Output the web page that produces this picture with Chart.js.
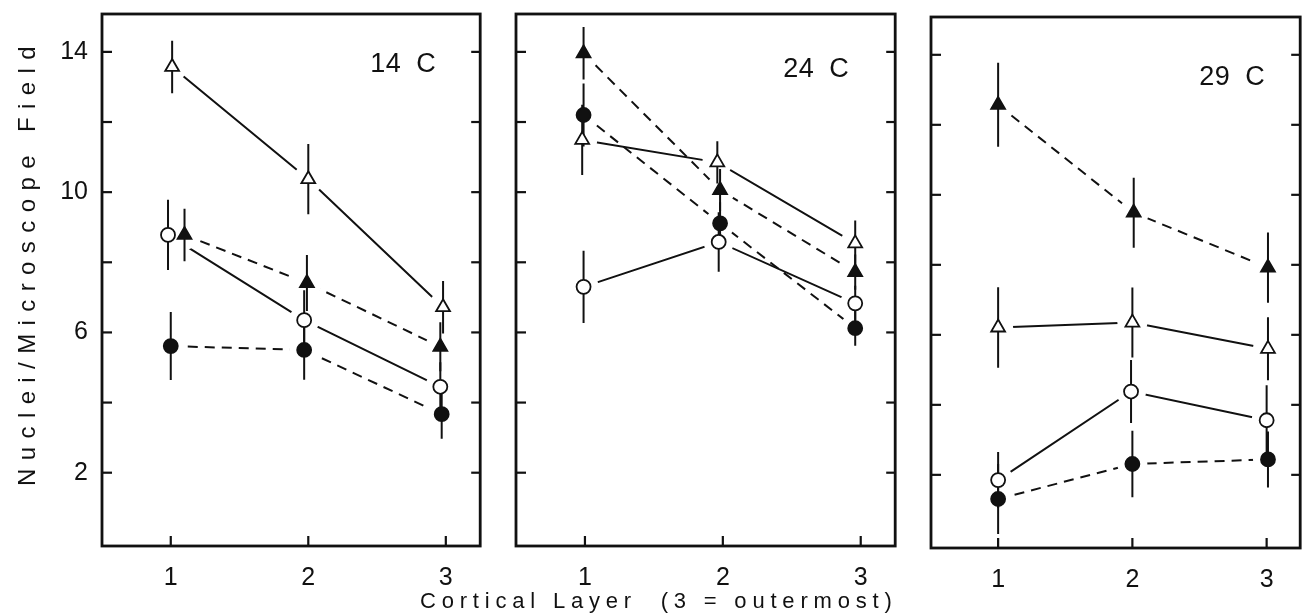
<!DOCTYPE html>
<html><head><meta charset="utf-8">
<script src="https://cdn.jsdelivr.net/npm/chart.js@4.4.1/dist/chart.umd.min.js"></script>
<style>
html,body{margin:0;padding:0;background:#fff;width:1310px;height:615px;overflow:hidden;position:relative;}
canvas{position:absolute;top:0;}
.title{position:absolute;font-family:"Liberation Sans",Arial,sans-serif;color:#111;white-space:pre;}
#ytitle{left:-203px;top:248px;width:460px;text-align:center;font-size:24px;line-height:28px;letter-spacing:8.4px;transform:rotate(-90deg);transform-origin:230px 14px;}
#xtitle{left:420px;top:588px;font-size:22px;line-height:26px;letter-spacing:5.8px;}
</style></head><body>
<canvas id="c1" width="490" height="615" style="left:0px"></canvas>
<canvas id="c2" width="415" height="615" style="left:490px"></canvas>
<canvas id="c3" width="405" height="615" style="left:905px"></canvas>
<div class="title" id="ytitle">Nuclei/Microscope Field</div>
<div class="title" id="xtitle">Cortical Layer  (3 = outermost)</div>
<script>
// ---- tick labels / categories ----
const xTicks = [1, 2, 3];
const yTicks = [2, 4, 6, 8, 10, 12, 14];
const yTickLabels = [2, 6, 10, 14];
const panelTitles = ['14 C', '24 C', '29 C'];

// ---- 14 C ----
const c14_openTri_x = [1.01, 2.00, 2.98];
const c14_openTri_y = [13.57, 10.37, 6.72];
const c14_openTri_e = [0.75, 1.00, 0.75];
const c14_fillTri_x = [1.10, 1.99, 2.96];
const c14_fillTri_y = [8.78, 7.41, 5.59];
const c14_fillTri_e = [0.75, 0.80, 0.70];
const c14_openCirc_x = [0.98, 1.97, 2.96];
const c14_openCirc_y = [8.78, 6.35, 4.45];
const c14_openCirc_e = [1.00, 0.85, 0.70];
const c14_fillCirc_x = [1.00, 1.97, 2.97];
const c14_fillCirc_y = [5.61, 5.50, 3.67];
const c14_fillCirc_e = [0.97, 0.85, 0.70];

// ---- 24 C ----
const c24_openTri_x = [0.98, 1.96, 2.96];
const c24_openTri_y = [11.49, 10.85, 8.54];
const c24_openTri_e = [1.00, 0.60, 0.65];
const c24_fillTri_x = [0.99, 1.98, 2.96];
const c24_fillTri_y = [13.96, 10.06, 7.72];
const c24_fillTri_e = [0.75, 0.60, 0.50];
const c24_openCirc_x = [0.99, 1.97, 2.96];
const c24_openCirc_y = [7.30, 8.58, 6.83];
const c24_openCirc_e = [1.03, 0.85, 0.50];
const c24_fillCirc_x = [0.99, 1.98, 2.96];
const c24_fillCirc_y = [12.20, 9.11, 6.12];
const c24_fillCirc_e = [0.90, 0.60, 0.50];

// ---- 29 C ----
const c29_openTri_x = [1.00, 2.00, 3.01];
const c29_openTri_y = [6.21, 6.35, 5.60];
const c29_openTri_e = [1.15, 1.00, 0.90];
const c29_fillTri_x = [1.00, 2.01, 3.01];
const c29_fillTri_y = [12.57, 9.49, 7.92];
const c29_fillTri_e = [1.20, 1.00, 1.00];
const c29_openCirc_x = [1.00, 1.99, 3.00];
const c29_openCirc_y = [1.85, 4.38, 3.56];
const c29_openCirc_e = [0.80, 0.90, 1.00];
const c29_fillCirc_x = [1.00, 2.00, 3.01];
const c29_fillCirc_y = [1.31, 2.31, 2.44];
const c29_fillCirc_e = [1.00, 0.95, 0.80];

const FONT = '"Liberation Sans", Arial, sans-serif';
const INK = '#111';

function series(x, y, e, style, filled, dashed) { return {x, y, e, style, filled, dashed}; }

const panels = [
  [series(c14_openTri_x, c14_openTri_y, c14_openTri_e, 'triangle', false, false),
   series(c14_fillTri_x, c14_fillTri_y, c14_fillTri_e, 'triangle', true, true),
   series(c14_openCirc_x, c14_openCirc_y, c14_openCirc_e, 'circle', false, false),
   series(c14_fillCirc_x, c14_fillCirc_y, c14_fillCirc_e, 'circle', true, true)],
  [series(c24_openTri_x, c24_openTri_y, c24_openTri_e, 'triangle', false, false),
   series(c24_fillTri_x, c24_fillTri_y, c24_fillTri_e, 'triangle', true, true),
   series(c24_openCirc_x, c24_openCirc_y, c24_openCirc_e, 'circle', false, false),
   series(c24_fillCirc_x, c24_fillCirc_y, c24_fillCirc_e, 'circle', true, true)],
  [series(c29_openTri_x, c29_openTri_y, c29_openTri_e, 'triangle', false, false),
   series(c29_fillTri_x, c29_fillTri_y, c29_fillTri_e, 'triangle', true, true),
   series(c29_openCirc_x, c29_openCirc_y, c29_openCirc_e, 'circle', false, false),
   series(c29_fillCirc_x, c29_fillCirc_y, c29_fillCirc_e, 'circle', true, true)]
];

// layout per panel (canvas-relative)
const layouts = [
  {id:'c1', yw:102, top:14, right:8, bottom:546, showY:true, lx:77, ly:51},
  {id:'c2', yw:26, top:14, right:8, bottom:546, showY:false, lx:79, ly:56},
  {id:'c3', yw:26, top:17, right:3, bottom:548, showY:false, lx:68, ly:61}
];

function line(ctx, x1, y1, x2, y2) { ctx.beginPath(); ctx.moveTo(x1, y1); ctx.lineTo(x2, y2); ctx.stroke(); }

const gapAndErrors = {
  id: 'gapAndErrors',
  beforeDatasetsDraw(chart) { chart.$gapDone = false; },
  beforeDatasetDraw(chart, args) {
    const ds = chart.data.datasets[args.index];
    if (ds.kind !== 'marker' || chart.$gapDone) return;
    chart.$gapDone = true;
    const {ctx, chartArea: a, scales: {x, y}} = chart;
    ctx.save();
    ctx.beginPath(); ctx.rect(a.left, a.top, a.right - a.left, a.bottom - a.top); ctx.clip();
    // white gaps where lines meet markers
    ctx.fillStyle = '#fff';
    chart.data.datasets.forEach(d => {
      if (d.kind !== 'marker') return;
      d.data.forEach(p => {
        ctx.beginPath();
        ctx.arc(x.getPixelForValue(p.x), y.getPixelForValue(p.y), 15, 0, Math.PI * 2);
        ctx.fill();
      });
    });
    // error bars
    ctx.strokeStyle = INK; ctx.lineWidth = 2;
    chart.data.datasets.forEach(d => {
      if (d.kind !== 'marker') return;
      d.data.forEach((p, i) => {
        const px = x.getPixelForValue(p.x);
        line(ctx, px, y.getPixelForValue(p.y + d.errs[i]), px, y.getPixelForValue(p.y - d.errs[i]));
      });
    });
    ctx.restore();
  }
};

const frame = {
  id: 'frame',
  afterDraw(chart, args, opts) {
    const {ctx, chartArea: a, scales: {x, y}} = chart;
    ctx.save();
    ctx.strokeStyle = INK;
    ctx.lineWidth = 2.2;
    y.ticks.forEach(t => {
      const py = y.getPixelForValue(t.value);
      line(ctx, a.left, py, a.left + 10, py);
      line(ctx, a.right - 9, py, a.right, py);
    });
    x.ticks.forEach(t => {
      const px = x.getPixelForValue(t.value);
      line(ctx, px, a.bottom, px, a.bottom - 10);
    });
    ctx.lineWidth = 2.8;
    ctx.strokeRect(a.left, a.top, a.right - a.left, a.bottom - a.top);
    ctx.fillStyle = INK;
    ctx.font = '27px ' + FONT;
    ctx.letterSpacing = '0.5px';
    ctx.wordSpacing = '7px';
    ctx.textAlign = 'center';
    ctx.textBaseline = 'middle';
    ctx.fillText(opts.label, a.right - opts.lx, a.top + opts.ly);
    ctx.restore();
  }
};

panels.forEach((ser, pi) => {
  const L = layouts[pi];
  const datasets = [];
  ser.forEach(s => {
    const pts = s.x.map((xv, i) => ({x: xv, y: s.y[i]}));
    datasets.push({kind: 'line', data: pts, showLine: true, borderColor: INK, borderWidth: 2,
      borderDash: s.dashed ? [10, 7] : [], pointRadius: 0, fill: false, tension: 0, order: 2});
    datasets.push({kind: 'marker', data: pts, errs: s.e, showLine: false, pointStyle: s.style,
      pointRadius: s.style === 'triangle' ? 8 : 7,
      pointBackgroundColor: s.filled ? INK : '#fff', pointBorderColor: INK, pointBorderWidth: 1.8, order: 1});
  });
  new Chart(document.getElementById(L.id), {
    type: 'scatter',
    data: {datasets},
    options: {
      responsive: false, animation: false, devicePixelRatio: 1,
      layout: {padding: {top: L.top, right: L.right, left: 0, bottom: 0}},
      plugins: {legend: {display: false}, tooltip: {enabled: false},
        frame: {label: panelTitles[pi], lx: L.lx, ly: L.ly}},
      scales: {
        x: {type: 'linear', min: 0.5, max: 3.25,
          afterBuildTicks: s => { s.ticks = xTicks.map(v => ({value: v})); },
          afterFit: s => { s.height = 615 - L.bottom; s.paddingLeft = 0; s.paddingRight = 0; s.paddingTop = 0; s.paddingBottom = 0; },
          grid: {display: false, drawTicks: false}, border: {display: false},
          ticks: {color: INK, font: {family: FONT, size: 25}, padding: 17, maxRotation: 0, autoSkip: false,
            callback: v => String(v)}},
        y: {type: 'linear', min: -0.09, max: 15.08,
          afterBuildTicks: s => { s.ticks = yTicks.map(v => ({value: v})); },
          afterFit: s => { s.width = L.yw; s.paddingTop = 0; s.paddingBottom = 0; s.paddingLeft = 0; s.paddingRight = 0; },
          grid: {display: false, drawTicks: false}, border: {display: false},
          ticks: {display: L.showY, color: INK, font: {family: FONT, size: 25}, padding: 14, autoSkip: false,
            callback: v => yTickLabels.includes(v) ? String(v) : ''}}
      }
    },
    plugins: [gapAndErrors, frame]
  });
});
</script>
</body></html>
